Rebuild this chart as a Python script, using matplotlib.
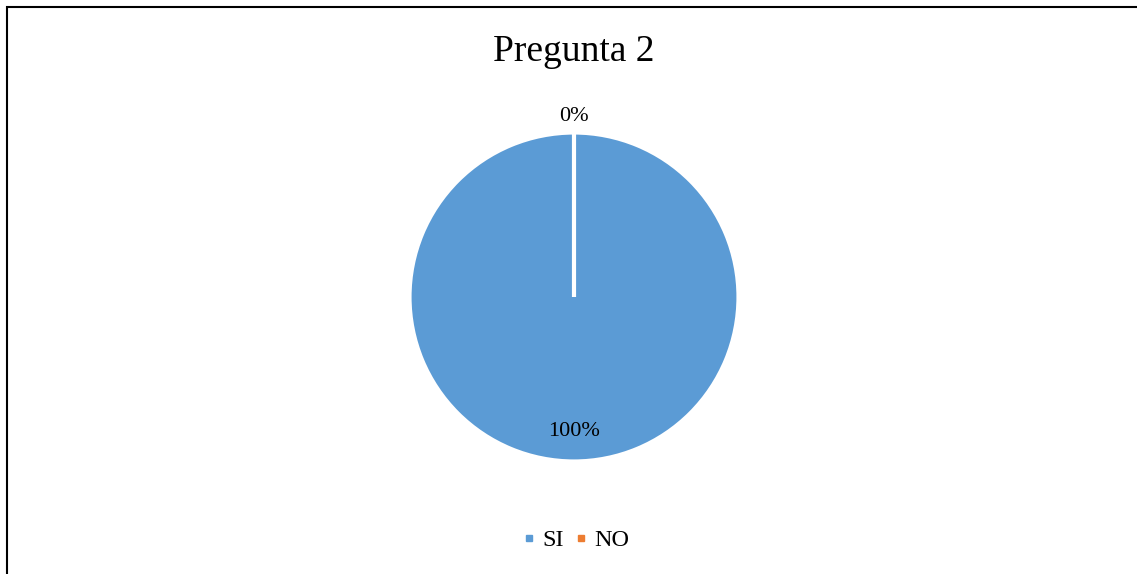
import matplotlib
matplotlib.use("Agg")
import matplotlib.pyplot as plt
from matplotlib.patches import Rectangle
from matplotlib.lines import Line2D
import numpy as np

categories = ["SI", "NO"]
values = [100, 0]
colors = ["#5B9BD5", "#ED7D31"]
title = "Pregunta 2"

W, H = 1137, 574
fig = plt.figure(figsize=(W / 100, H / 100), dpi=100)
plt.rcParams['font.family'] = ['Liberation Serif', 'DejaVu Serif']

# frame border
fig.patches.append(Rectangle((6.5 / W, -0.1), 1.2, (H - 7.5) / H + 0.1,
                             transform=fig.transFigure, fill=False,
                             edgecolor="black", linewidth=1.5))

cx, cy, r = 574, 297, 164.5
ax = fig.add_axes([(cx - r) / W, (H - cy - r) / H, 2 * r / W, 2 * r / H])
wedges, _ = ax.pie(values, colors=colors, startangle=90, counterclock=False,
                   radius=1.0, wedgeprops=dict(edgecolor="white", linewidth=3))
ax.set_xlim(-1, 1)
ax.set_ylim(-1, 1)
ax.set_aspect("equal")
ax.axis("off")

total = sum(values)
start = 90.0
for v in values:
    frac = v / total
    mid = np.deg2rad(start - 360 * frac / 2)
    d = 0.82 if frac > 0 else 1.095
    ax.text(d * np.cos(mid), d * np.sin(mid), f"{round(frac * 100)}%",
            ha="center", va="center", fontsize=16, clip_on=False)
    start -= 360 * frac

fig.text(cx / W, (H - 52) / H, title, ha="center", va="center", fontsize=27)

handles = [Line2D([], [], marker="s", linestyle="none", markersize=4.2,
                  color=c) for c in colors]
fig.legend(handles, categories, loc="center", bbox_to_anchor=(576.5 / W, (H - 540) / H),
           ncol=2, frameon=False, fontsize=17.5, handlelength=0.5,
           handletextpad=0.3, columnspacing=0.45)

fig.savefig("out.png", dpi=100)
